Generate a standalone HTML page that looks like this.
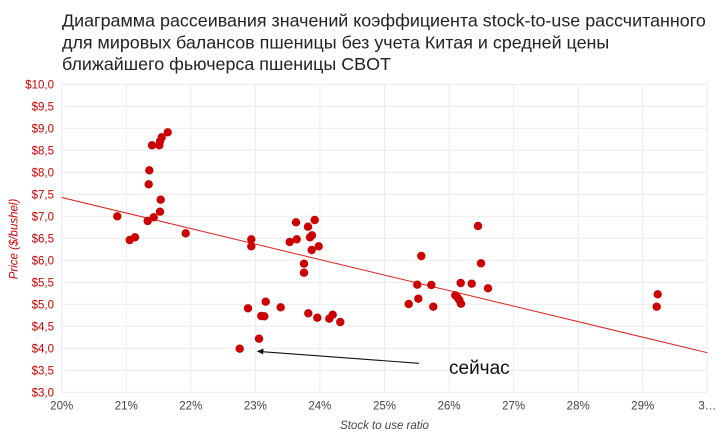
<!DOCTYPE html>
<html><head><meta charset="utf-8"><style>
html,body{margin:0;padding:0;background:#fff;}
svg{display:block;}
text{font-family:"Liberation Sans","Noto Sans CJK SC",sans-serif;}
</style></head><body>
<svg width="727" height="439" viewBox="0 0 727 439" xmlns="http://www.w3.org/2000/svg">
<rect width="727" height="439" fill="#fff"/>
<g font-size="17.9" fill="#222">
<text x="62" y="26.5">Диаграмма рассеивания значений коэффициента stock-to-use рассчитанного</text>
<text x="62" y="48.3">для мировых балансов пшеницы без учета Китая и средней цены</text>
<text x="62" y="70">ближайшего фьючерса пшеницы CBOT</text>
</g>
<g stroke="#ececec" stroke-width="1">
<line x1="61.7" y1="84.3" x2="707.3" y2="84.3"/>
<line x1="61.7" y1="106.3" x2="707.3" y2="106.3"/>
<line x1="61.7" y1="128.3" x2="707.3" y2="128.3"/>
<line x1="61.7" y1="150.3" x2="707.3" y2="150.3"/>
<line x1="61.7" y1="172.3" x2="707.3" y2="172.3"/>
<line x1="61.7" y1="194.3" x2="707.3" y2="194.3"/>
<line x1="61.7" y1="216.3" x2="707.3" y2="216.3"/>
<line x1="61.7" y1="238.3" x2="707.3" y2="238.3"/>
<line x1="61.7" y1="260.3" x2="707.3" y2="260.3"/>
<line x1="61.7" y1="282.3" x2="707.3" y2="282.3"/>
<line x1="61.7" y1="304.3" x2="707.3" y2="304.3"/>
<line x1="61.7" y1="326.3" x2="707.3" y2="326.3"/>
<line x1="61.7" y1="348.3" x2="707.3" y2="348.3"/>
<line x1="61.7" y1="370.3" x2="707.3" y2="370.3"/>
<line x1="61.7" y1="392.3" x2="707.3" y2="392.3"/>
<line x1="61.7" y1="84.3" x2="61.7" y2="392.3"/>
<line x1="126.3" y1="84.3" x2="126.3" y2="392.3"/>
<line x1="190.8" y1="84.3" x2="190.8" y2="392.3"/>
<line x1="255.4" y1="84.3" x2="255.4" y2="392.3"/>
<line x1="319.9" y1="84.3" x2="319.9" y2="392.3"/>
<line x1="384.5" y1="84.3" x2="384.5" y2="392.3"/>
<line x1="449.1" y1="84.3" x2="449.1" y2="392.3"/>
<line x1="513.6" y1="84.3" x2="513.6" y2="392.3"/>
<line x1="578.2" y1="84.3" x2="578.2" y2="392.3"/>
<line x1="642.7" y1="84.3" x2="642.7" y2="392.3"/>
<line x1="707.3" y1="84.3" x2="707.3" y2="392.3"/>
</g>
<g font-size="11.5" fill="#cc0000" text-anchor="end">
<text x="54" y="88.4">$10,0</text>
<text x="54" y="110.4">$9,5</text>
<text x="54" y="132.4">$9,0</text>
<text x="54" y="154.4">$8,5</text>
<text x="54" y="176.4">$8,0</text>
<text x="54" y="198.4">$7,5</text>
<text x="54" y="220.4">$7,0</text>
<text x="54" y="242.4">$6,5</text>
<text x="54" y="264.4">$6,0</text>
<text x="54" y="286.4">$5,5</text>
<text x="54" y="308.4">$5,0</text>
<text x="54" y="330.4">$4,5</text>
<text x="54" y="352.4">$4,0</text>
<text x="54" y="374.4">$3,5</text>
<text x="54" y="396.4">$3,0</text>
</g>
<g font-size="11.5" fill="#444" text-anchor="middle">
<text x="61.7" y="409.5">20%</text>
<text x="126.3" y="409.5">21%</text>
<text x="190.8" y="409.5">22%</text>
<text x="255.4" y="409.5">23%</text>
<text x="319.9" y="409.5">24%</text>
<text x="384.5" y="409.5">25%</text>
<text x="449.1" y="409.5">26%</text>
<text x="513.6" y="409.5">27%</text>
<text x="578.2" y="409.5">28%</text>
<text x="642.7" y="409.5">29%</text>
<text x="707.3" y="409.5">3…</text>
</g>
<text x="384.5" y="429" font-size="11.5" font-style="italic" fill="#444" text-anchor="middle">Stock to use ratio</text>
<text transform="translate(17.5,239) rotate(-90)" font-size="11.5" font-style="italic" fill="#cc0000" text-anchor="middle">Price ($/bushel)</text>
<line x1="61.7" y1="197.5" x2="707.3" y2="352.7" stroke="#dd1f1f" stroke-width="1"/>
<g fill="#cc0000">
<circle cx="117.3" cy="216.3" r="4.2"/>
<circle cx="129.7" cy="240" r="4.2"/>
<circle cx="135" cy="237.3" r="4.2"/>
<circle cx="147.7" cy="221" r="4.2"/>
<circle cx="148.7" cy="184.3" r="4.2"/>
<circle cx="149.3" cy="170.3" r="4.2"/>
<circle cx="152" cy="145.3" r="4.2"/>
<circle cx="153.7" cy="217.3" r="4.2"/>
<circle cx="159.3" cy="145.3" r="4.2"/>
<circle cx="160" cy="141.3" r="4.2"/>
<circle cx="161.7" cy="137.3" r="4.2"/>
<circle cx="167.7" cy="132.3" r="4.2"/>
<circle cx="160" cy="211.7" r="4.2"/>
<circle cx="160.7" cy="199.7" r="4.2"/>
<circle cx="185.7" cy="233.3" r="4.2"/>
<circle cx="296" cy="222.3" r="4.2"/>
<circle cx="308" cy="226.7" r="4.2"/>
<circle cx="314.7" cy="220" r="4.2"/>
<circle cx="312" cy="235.3" r="4.2"/>
<circle cx="310" cy="237.3" r="4.2"/>
<circle cx="289.7" cy="242" r="4.2"/>
<circle cx="296.7" cy="239.3" r="4.2"/>
<circle cx="311.7" cy="250" r="4.2"/>
<circle cx="318.7" cy="246.3" r="4.2"/>
<circle cx="304" cy="263.7" r="4.2"/>
<circle cx="304" cy="272.7" r="4.2"/>
<circle cx="251.3" cy="239.3" r="4.2"/>
<circle cx="251.3" cy="246.3" r="4.2"/>
<circle cx="265.7" cy="301.7" r="4.2"/>
<circle cx="248" cy="308.3" r="4.2"/>
<circle cx="280.7" cy="307.3" r="4.2"/>
<circle cx="261.3" cy="316" r="4.2"/>
<circle cx="264.3" cy="316.3" r="4.2"/>
<circle cx="308.3" cy="313.3" r="4.2"/>
<circle cx="317.3" cy="317.7" r="4.2"/>
<circle cx="329.3" cy="318.7" r="4.2"/>
<circle cx="332.7" cy="314.7" r="4.2"/>
<circle cx="340.3" cy="322" r="4.2"/>
<circle cx="259" cy="338.7" r="4.2"/>
<circle cx="239.7" cy="348.7" r="4.2"/>
<circle cx="478" cy="226" r="4.2"/>
<circle cx="421.3" cy="256" r="4.2"/>
<circle cx="481" cy="263.3" r="4.2"/>
<circle cx="417.3" cy="284.7" r="4.2"/>
<circle cx="431.3" cy="285" r="4.2"/>
<circle cx="460.7" cy="283" r="4.2"/>
<circle cx="471.7" cy="283.7" r="4.2"/>
<circle cx="488" cy="288.3" r="4.2"/>
<circle cx="418.3" cy="298.7" r="4.2"/>
<circle cx="408.7" cy="304" r="4.2"/>
<circle cx="433.3" cy="306.7" r="4.2"/>
<circle cx="455.3" cy="295.3" r="4.2"/>
<circle cx="457.3" cy="297.3" r="4.2"/>
<circle cx="459.3" cy="300" r="4.2"/>
<circle cx="461" cy="303.7" r="4.2"/>
<circle cx="657.7" cy="294.3" r="4.2"/>
<circle cx="656.7" cy="306.7" r="4.2"/>
</g>
<line x1="419" y1="363.3" x2="262" y2="351.7" stroke="#111" stroke-width="1.1"/>
<polygon points="256.7,351.3 263.5,348.6 263.1,354.4" fill="#111"/>
<text x="449" y="374" font-size="19" fill="#111">сейчас</text>
</svg>
</body></html>
